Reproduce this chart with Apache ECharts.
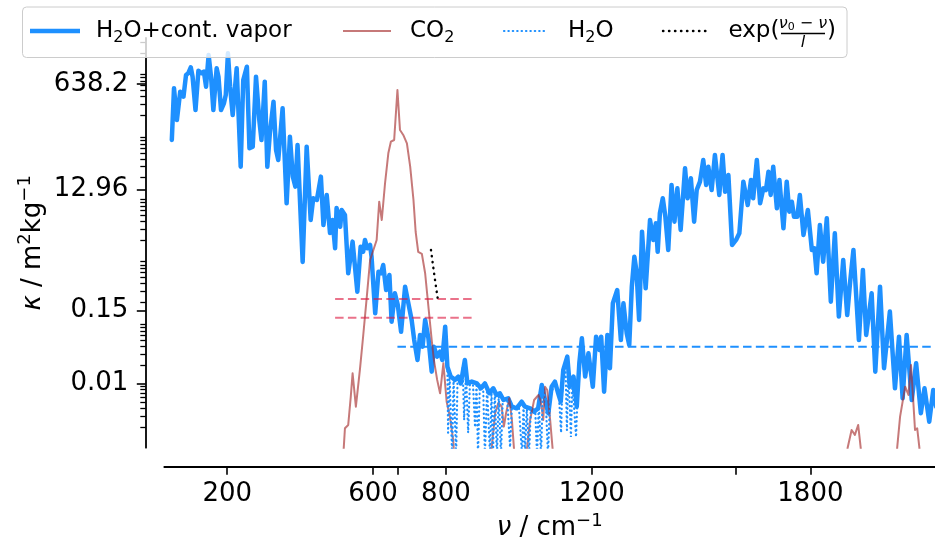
<!DOCTYPE html>
<html>
<head>
<meta charset="utf-8">
<script src="https://cdn.jsdelivr.net/npm/echarts@6/dist/echarts.min.js"></script>
<style>
  html, body { margin: 0; padding: 0; background: #ffffff; }
  #chart { width: 935px; height: 543px; }
</style>
</head>
<body>
<div id="chart"></div>
<script>
// Mass absorption coefficient spectra: [wavenumber (cm^-1), kappa (m^2 kg^-1)]
const vaporWithContinuum = [
  [48,80.4],[54,542],[62,168],[71,478],[80,397],[87,885],[93,943],[100,1177],[105,831],[113,243],
  [121,1038],[130,943],[136,1000],[142,575],[149,1853],[156,784],[162,243],[171,1133],[176,831],[183,243],
  [191,312],[196,423],[202,1972],[208,575],[215,202],[226,1133],[237,30.0],[244,736],[254,1202],[261,59.2],
  [270,62.8],[279,831],[288,168],[294,80.4],[303,692],[310,30.0],[317,103],[327,330],[334,55.6],[340,38.4],
  [352,259],[363,7.78],[372,90.9],[380,20.8],[387,14.4],[393,66.9],[407,0.892],[418,62.8],[429,4.20],[436,9.36],
  [446,8.79],[457,20.8],[464,3.49],[473,10.6],[482,2.60],[489,4.20],[496,1.48],[500,6.54],[510,3.28],[514,6.08],
  [523,5.06],[532,0.588],[544,1.89],[557,0.298],[566,1.57],[573,1.30],[578,2.01],[584,1.48],[592,1.67],[596,1.08],
  [606,0.134],[615,0.624],[622,0.588],[628,0.798],[636,0.317],[645,0.552],[651,0.0986],[660,0.281],[668,0.182],[677,0.0681],
  [688,0.358],[697,0.194],[706,0.105],[713,0.0501],[722,0.0240],[729,0.0603],[736,0.0392],[743,0.105],[752,0.0534],[761,0.0156],
  [767,0.0392],[776,0.0271],[784,0.0326],[790,0.0240],[798,0.0819],[804,0.0187],[813,0.0130],[825,0.0115],[834,0.0130],[841,0.0101],
  [852,0.0240],[859,0.0101],[871,0.0108],[885,0.0101],[896,0.00844],[907,0.0101],[919,0.00702],[930,0.00844],[939,0.00659],[948,0.00702],
  [958,0.00548],[971,0.00583],[981,0.00428],[994,0.00403],[1008,0.00515],[1017,0.00428],[1031,0.00403],[1042,0.00356],[1053,0.00403],[1063,0.00953],
  [1072,0.00548],[1081,0.00336],[1090,0.00895],[1099,0.0108],[1108,0.00702],[1115,0.00515],[1122,0.0166],[1133,0.0271],[1140,0.00895],[1150,0.0130],
  [1159,0.00428],[1166,0.0212],[1173,0.0534],[1182,0.0130],[1191,0.0307],[1203,0.00895],[1212,0.0567],[1221,0.0347],[1226,0.0567],[1234,0.00745],
  [1243,0.0603],[1250,0.0177],[1258,0.194],[1263,0.206],[1270,0.317],[1280,0.0501],[1287,0.194],[1296,0.0642],[1303,0.0417],[1310,0.358],
  [1317,1.08],[1323,0.624],[1330,0.105],[1338,2.73],[1348,0.338],[1360,4.20],[1369,2.01],[1376,3.72],[1381,1.30],[1387,5.38],
  [1395,9.36],[1402,4.75],[1410,1.39],[1419,15.3],[1427,3.95],[1435,13.5],[1444,2.91],[1456,28.3],[1463,9.36],[1472,19.6],
  [1481,3.95],[1488,12.7],[1497,17.3],[1506,38.4],[1514,15.3],[1520,30.0],[1529,12.7],[1538,46.2],[1550,10.6],[1559,46.2],
  [1566,11.9],[1575,22.1],[1585,1.67],[1596,2.01],[1605,2.57],[1616,17.3],[1628,7.31],[1637,18.4],[1643,9.36],[1653,38.4],
  [1662,7.78],[1671,13.5],[1678,12.7],[1685,25.0],[1691,10.6],[1698,30.0],[1708,6.47],[1715,18.4],[1726,3.09],[1735,17.3],
  [1742,5.71],[1749,8.26],[1755,4.75],[1764,4.75],[1771,10.6],[1781,2.42],[1793,6.08],[1804,1.39],[1811,1.48],[1817,0.588],
  [1826,3.49],[1835,0.902],[1845,4.47],[1856,0.206],[1867,2.57],[1878,0.119],[1890,0.96],[1901,0.126],[1909,0.431],[1918,1.39],
  [1933,0.0501],[1944,0.664],[1953,0.0603],[1968,0.281],[1978,0.0156],[1991,0.358],[2002,0.0177],[2018,0.143],[2032,0.00844],[2043,0.0567],
  [2053,0.00583],[2064,0.0603],[2078,0.00548],[2090,0.0212],[2103,0.00336],[2113,0.00844],[2126,0.00246],[2137,0.00792],[2145,0.00428]
];

const co2 = [
  [516,0.000414],[523,0.00193],[532,0.00218],[539,0.00619],[544,0.0147],[553,0.00428],[564,0.0166],[573,0.0581],[583,0.248],[592,0.960],
  [601,1.39],[610,2.01],[617,8.26],[624,4.20],[633,16.3],[642,49.2],[649,75.5],[658,80.4],[662,74.7],[667,509],
  [674,116],[683,96.8],[693,71.2],[702,30.0],[711,8.79],[717,2.70],[724,1.29],[734,1.20],[743,0.588],[752,0.171],
  [761,0.0501],[767,0.024],[776,0.0115],[784,0.00702],[793,0.0212],[802,0.00515],[811,0.00296],[820,0.00125],[825,0.000414],
  [921,0.000414],[926,0.000978],[935,0.00336],[944,0.00496],[953,0.00428],[959,0.00205],[965,0.00336],[974,0.00583],[981,0.00262],[987,0.000867],[990,0.000414],
  [1018,0.000414],[1022,0.000867],[1031,0.00262],[1042,0.00548],[1054,0.00659],[1061,0.00509],[1067,0.00262],[1072,0.00895],[1078,0.00792],[1086,0.00262],[1093,0.000867],[1097,0.000414],
  [1898,0.000414],[1902,0.000933],[1913,0.00181],[1922,0.00151],[1931,0.00218],[1938,0.000933],[1940,0.000414],
  [2035,0.000414],[2038,0.000933],[2046,0.00296],[2060,0.00895],[2069,0.00659],[2076,0.0199],[2082,0.00548],[2087,0.00181],[2093,0.00193],[2099,0.000933],[2101,0.000414]
];

// Line-only water vapour absorption in the 800-1200 cm^-1 window (dips between lines)
const h2oLines = [
  [804,0.0187],[806,0.00164],[810,0.014],[817,0.0007],[821,0.012],[828,0.0007],[832,0.013],
  [840,0.0101],[846,0.018],[850,0.00262],[855,0.015],[861,0.00164],[866,0.0105],[874,0.0105],
  [880,0.002],[884,0.0101],[888,0.0007],[893,0.009],[902,0.0095],[907,0.0007],[913,0.0085],
  [921,0.0007],[925,0.0078],[929,0.0007],[934,0.0075],[940,0.0007],[945,0.0068],[951,0.0007],[956,0.0058],
  [968,0.0058],[976,0.00096],[981,0.0043],[1000,0.0045],[1009,0.0007],[1013,0.0047],[1017,0.0007],[1022,0.0042],
  [1028,0.0007],[1033,0.004],[1045,0.0038],[1050,0.0007],[1055,0.005],[1061,0.0007],[1066,0.008],[1074,0.0052],
  [1080,0.0007],[1086,0.006],[1099,0.0108],[1110,0.0065],[1116,0.00164],[1120,0.014],[1128,0.022],
  [1132,0.0018],[1136,0.018],[1143,0.0014],[1147,0.011],[1152,0.011],[1157,0.0014],[1162,0.009],[1166,0.0212]
];

// Exponential fall-off of the CO2 band wing
const expWing = [[759,1.39],[768,0.56],[778,0.22]];

// Reference levels (kappa) and their wavenumber spans
const co2Levels = [0.228, 0.114];
const co2LevelSpan = [496, 877];
const windowLevel = [0.0392];
const windowLevelSpan = [667, 2150];

// Axes
const xRange = [27.4, 2141.8];
const yRange = [0.000942, 3467];
const xTickValues = [200, 600, 667, 800, 1200, 1595, 1800];
const xLabelValues = [200, 600, 800, 1200, 1800];
const yTickValues = [0.01, 0.15, 12.96, 638.2];
const yTickLabels = ['0.01', '0.15', '12.96', '638.2'];

const FONT = 'DejaVu Sans';
const BLUE = '#1e90ff';
const CO2_COLOR = 'rgba(165,42,42,0.63)';
const REF_COLOR = 'rgba(220,20,60,0.6)';

const lg = v => Math.log10(v);
const toXY = pts => pts.map(p => [p[0], lg(p[1])]);

const yMinorTicks = [];
for (let n = -4; n <= 3; n++) {
  for (let k = 2; k <= 9; k++) {
    const v = k * Math.pow(10, n);
    if (v > yRange[0] && v < yRange[1]) yMinorTicks.push(lg(v));
  }
}

const yMin = lg(yRange[0]), yMax = lg(yRange[1]);

function yLabel(v) {
  for (let i = 0; i < yTickValues.length; i++) {
    if (Math.abs(lg(yTickValues[i]) - v) < 1e-6) return yTickLabels[i];
  }
  return '';
}

const nameStyle = {
  fontSize: 26, fontFamily: FONT, color: '#000', lineHeight: 32,
  rich: {
    i: { fontSize: 26, fontFamily: FONT, fontStyle: 'italic', color: '#000', lineHeight: 32 },
    sup: { fontSize: 18, fontFamily: FONT, color: '#000', lineHeight: 18, verticalAlign: 'top' }
  }
};

function lineSeries(data, style, z) {
  return {
    type: 'line', data: data, symbol: 'none', showSymbol: false, silent: true,
    animation: false, clip: true, z: z, lineStyle: style
  };
}

const H2O_DOTS = [0.4, 4];
const EXP_DOTS = [0.4, 5.6];

const series = [
  lineSeries(toXY(vaporWithContinuum), { color: BLUE, width: 4.5, join: 'round', cap: 'round' }, 2),
  lineSeries(toXY(co2), { color: CO2_COLOR, width: 2, join: 'round' }, 3),
  lineSeries(toXY(h2oLines), { color: BLUE, width: 2.2, type: H2O_DOTS, cap: 'round' }, 4),
  lineSeries(toXY(expWing), { color: '#000', width: 2.4, type: EXP_DOTS, cap: 'round' }, 5)
];
co2Levels.forEach(level => {
  series.push(lineSeries(co2LevelSpan.map(x => [x, lg(level)]), { color: REF_COLOR, width: 2, type: [8.5, 4.3] }, 6));
});
series.push(lineSeries(windowLevelSpan.map(x => [x, lg(windowLevel[0])]), { color: BLUE, width: 2, type: [8.5, 4.3] }, 6));

// Legend box drawn as graphic elements (needs a stacked fraction in the last entry)
const LY = 31.5;
const legendText = (x, y, text, size, extra) => Object.assign({
  type: 'text', x: x, y: y, z: 101, silent: true,
  style: Object.assign({
    text: text, fontSize: size, fontFamily: FONT, fill: '#000',
    verticalAlign: 'middle', align: 'left', lineHeight: 28,
    rich: {
      sub: { fontSize: 16, fontFamily: FONT, fill: '#000', lineHeight: 16, verticalAlign: 'bottom' },
      i: { fontSize: size, fontFamily: FONT, fontStyle: 'italic', fill: '#000', lineHeight: 28 },
      si: { fontSize: 11, fontFamily: FONT, fill: '#000', lineHeight: 11, verticalAlign: 'bottom' }
    }
  }, extra || {})
});

const legendElements = [
  { type: 'rect', z: 100, silent: true, shape: { x: 22.5, y: 7, width: 824.5, height: 50.5, r: 4 },
    style: { fill: 'rgba(255,255,255,0.8)', stroke: '#cccccc', lineWidth: 1 } },
  { type: 'line', z: 101, silent: true, shape: { x1: 30, y1: 31, x2: 80, y2: 31 }, style: { stroke: BLUE, lineWidth: 4.5 } },
  legendText(96, LY, 'H{sub|2}O+cont. vapor', 23),
  { type: 'line', z: 101, silent: true, shape: { x1: 343, y1: 31, x2: 391, y2: 31 }, style: { stroke: CO2_COLOR, lineWidth: 2 } },
  legendText(410, LY, 'CO{sub|2}', 23),
  { type: 'line', z: 101, silent: true, shape: { x1: 504, y1: 31, x2: 548, y2: 31 },
    style: { stroke: BLUE, lineWidth: 2.2, lineDash: H2O_DOTS, lineCap: 'round' } },
  legendText(568, LY, 'H{sub|2}O', 23),
  { type: 'line', z: 101, silent: true, shape: { x1: 663, y1: 31, x2: 707, y2: 31 },
    style: { stroke: '#000', lineWidth: 2.4, lineDash: EXP_DOTS, lineCap: 'round' } },
  legendText(728.5, LY, 'exp(', 23),
  legendText(803, 24, '{i|ν}{si|0} − {i|ν}', 16, { align: 'center', lineHeight: 18,
    rich: {
      i: { fontSize: 16, fontFamily: FONT, fontStyle: 'italic', fill: '#000', lineHeight: 18 },
      si: { fontSize: 11, fontFamily: FONT, fill: '#000', lineHeight: 11, verticalAlign: 'bottom' }
    } }),
  { type: 'line', z: 101, silent: true, shape: { x1: 781, y1: 33.5, x2: 825, y2: 33.5 }, style: { stroke: '#000', lineWidth: 1.3 } },
  legendText(803, 43, 'l', 16, { align: 'center', fontStyle: 'italic', lineHeight: 18 }),
  legendText(827, LY, ')', 23)
];

const option = {
  animation: false,
  backgroundColor: '#ffffff',
  grid: { left: 164.3, right: 0, top: 38, bottom: 95.3, containLabel: false, outerBoundsMode: 'none' },
  xAxis: {
    type: 'value', min: xRange[0], max: xRange[1], position: 'bottom', offset: 19,
    axisLine: { show: true, onZero: false, lineStyle: { color: '#000', width: 1.8 } },
    axisTick: { show: true, customValues: xTickValues, length: 8, lineStyle: { color: '#000', width: 1.6 } },
    axisLabel: { show: true, customValues: xLabelValues, formatter: v => String(v), margin: 15,
      fontSize: 26, fontFamily: FONT, color: '#000' },
    splitLine: { show: false },
    name: '{i|ν} / cm{sup|−1}', nameLocation: 'middle', nameGap: 46, nameMoveOverlap: false,
    nameTextStyle: nameStyle
  },
  yAxis: [
    {
      type: 'value', min: yMin, max: yMax, position: 'left', offset: 18.5,
      axisLine: { show: true, onZero: false, lineStyle: { color: '#000', width: 1.8 } },
      axisTick: { show: true, customValues: yTickValues.map(lg), length: 9, lineStyle: { color: '#000', width: 1.6 } },
      axisLabel: { show: true, customValues: yTickValues.map(lg), formatter: yLabel, margin: 17.5,
        fontSize: 26, fontFamily: FONT, color: '#000' },
      splitLine: { show: false },
      name: '{i|κ} / m{sup|2}kg{sup|−1}', nameLocation: 'middle', nameGap: 97, nameRotate: 90,
      nameMoveOverlap: false, nameTextStyle: nameStyle
    },
    {
      type: 'value', min: yMin, max: yMax, position: 'left', offset: 18.5,
      axisLine: { show: false, onZero: false },
      axisTick: { show: true, customValues: yMinorTicks, length: 5.5, lineStyle: { color: '#000', width: 1.3 } },
      axisLabel: { show: false },
      splitLine: { show: false }
    }
  ],
  graphic: { elements: legendElements },
  series: series
};

const chart = echarts.init(document.getElementById('chart'), null, { renderer: 'canvas', width: 935, height: 543 });
chart.setOption(option);
</script>
</body>
</html>
